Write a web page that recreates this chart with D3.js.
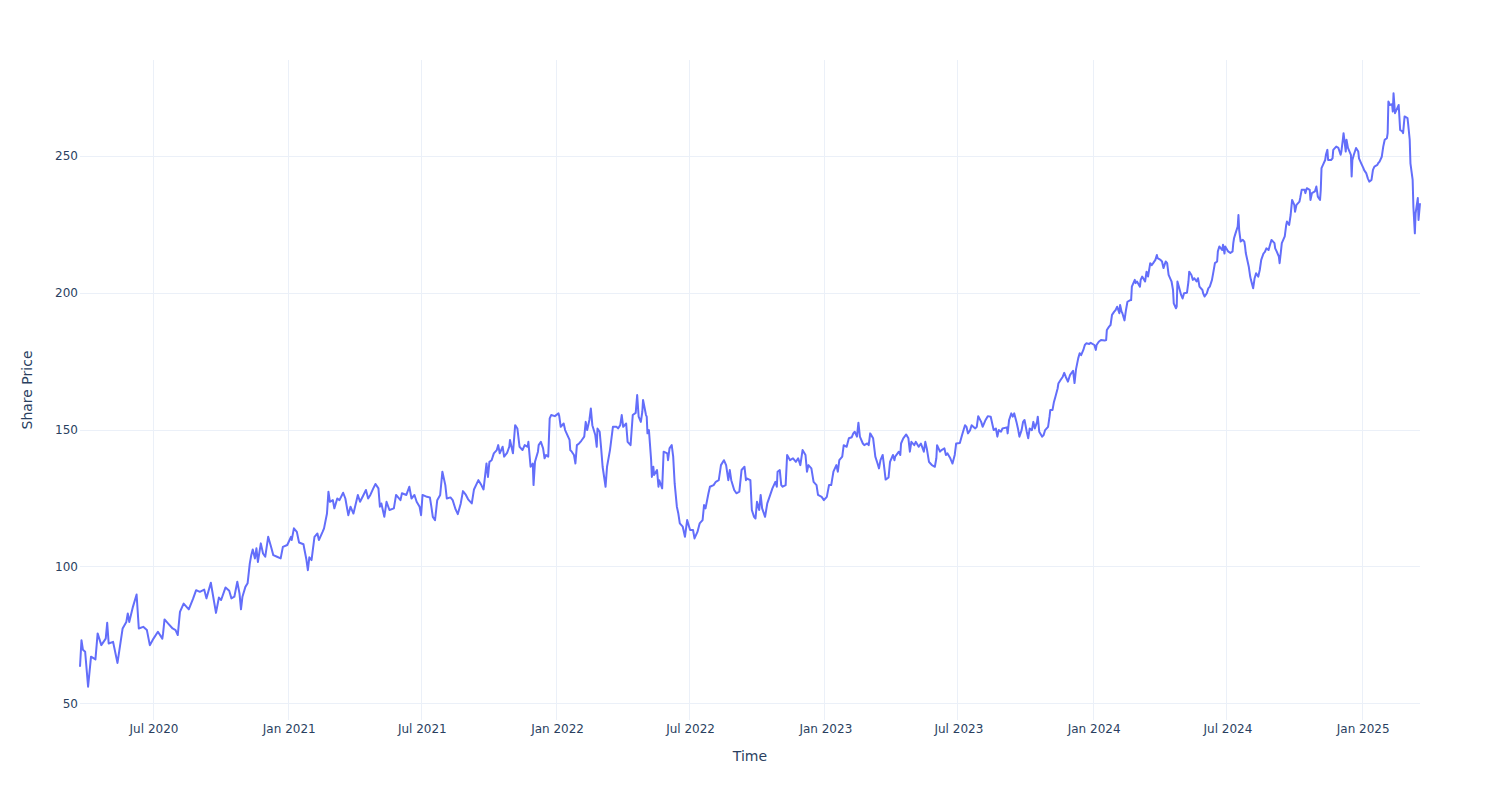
<!DOCTYPE html>
<html><head><meta charset="utf-8">
<script src="https://cdn.jsdelivr.net/npm/d3@7"></script>
<style>body{margin:0;background:#fff}</style>
</head><body><svg id="chart" width="1500" height="800"></svg>
<script>
// ---- data (date, share price) ----
const prices2020 = [
["2020-03-23",63.3],["2020-03-25",73.0],["2020-03-27",69.5],["2020-03-30",68.8],
["2020-04-03",56.0],["2020-04-07",67.0],["2020-04-13",66.0],["2020-04-16",75.5],["2020-04-21",71.2],["2020-04-27",73.6],["2020-04-29",79.4],
["2020-05-01",71.8],["2020-05-07",72.4],["2020-05-13",64.7],["2020-05-20",77.3],["2020-05-25",79.7],["2020-05-27",82.8],["2020-05-29",79.7],
["2020-06-03",85.2],["2020-06-08",89.7],["2020-06-11",77.3],["2020-06-17",77.9],["2020-06-22",76.7],["2020-06-26",71.2],
["2020-07-01",73.6],["2020-07-07",76.1],["2020-07-13",73.6],["2020-07-14",75.5],["2020-07-16",80.6],["2020-07-21",79.1],["2020-07-27",77.3],["2020-07-31",76.7],
["2020-08-03",74.9],["2020-08-06",83.4],["2020-08-11",86.4],["2020-08-18",84.3],["2020-08-24",88.3],["2020-08-28",91.3],
["2020-09-02",90.7],["2020-09-08",91.5],["2020-09-11",88.3],["2020-09-17",94.0],["2020-09-21",87.7],["2020-09-24",83.0],["2020-09-28",88.6],
["2020-10-01",87.7],["2020-10-07",92.3],["2020-10-12",91.1],["2020-10-15",88.3],["2020-10-19",88.9],["2020-10-23",94.4],["2020-10-26",90.1],["2020-10-28",84.3],["2020-10-30",88.9],
["2020-11-03",92.5],["2020-11-06",93.8],["2020-11-09",101.1],["2020-11-11",104.1],["2020-11-13",106.2],["2020-11-16",102.9],["2020-11-18",106.6],["2020-11-20",101.6],["2020-11-24",108.4],["2020-11-27",104.7],["2020-11-30",103.5],
["2020-12-04",110.8],["2020-12-08",107.1],["2020-12-11",104.1],["2020-12-16",103.5],["2020-12-21",102.9],["2020-12-24",107.1],["2020-12-30",107.8]
];
const prices2021 = [
["2021-01-04",110.8],["2021-01-05",109.6],["2021-01-08",113.9],["2021-01-12",112.6],["2021-01-15",108.7],["2021-01-21",108.1],["2021-01-22",106.6],["2021-01-25",102.5],["2021-01-27",98.6],["2021-01-29",103.3],
["2021-02-01",102.3],["2021-02-05",110.8],["2021-02-09",112.0],["2021-02-11",109.6],["2021-02-16",112.6],["2021-02-18",113.9],["2021-02-22",119.3],["2021-02-24",127.3],["2021-02-26",123.6],
["2021-03-02",124.2],["2021-03-04",121.2],["2021-03-08",124.8],["2021-03-11",124.2],["2021-03-16",126.9],["2021-03-19",124.8],["2021-03-23",118.7],["2021-03-26",121.8],["2021-03-30",119.3],
["2021-04-05",126.1],["2021-04-08",123.6],["2021-04-12",125.7],["2021-04-16",127.9],["2021-04-19",124.8],["2021-04-22",126.1],["2021-04-26",128.5],["2021-04-29",130.1],
["2021-05-03",128.5],["2021-05-05",121.8],["2021-05-07",123.0],["2021-05-11",118.1],["2021-05-14",123.6],["2021-05-18",120.6],["2021-05-24",121.2],["2021-05-27",126.1],
["2021-06-02",124.2],["2021-06-04",126.7],["2021-06-10",126.1],["2021-06-14",129.1],["2021-06-17",124.8],["2021-06-21",126.1],["2021-06-24",123.6],["2021-06-28",121.8],["2021-06-30",118.7],
["2021-07-02",126.1],["2021-07-08",125.4],["2021-07-12",125.2],["2021-07-14",121.8],["2021-07-16",118.1],["2021-07-19",116.9],["2021-07-22",124.2],["2021-07-26",126.1],["2021-07-29",134.6],
["2021-08-02",129.7],["2021-08-04",124.8],["2021-08-09",125.2],["2021-08-12",124.2],["2021-08-16",120.8],["2021-08-19",119.1],["2021-08-23",123.0],["2021-08-26",127.5],["2021-08-30",126.1],
["2021-09-02",124.5],["2021-09-07",123.0],["2021-09-10",128.1],["2021-09-16",131.5],["2021-09-20",129.7],["2021-09-23",128.1],["2021-09-27",137.6],["2021-09-29",132.7],
["2021-10-01",138.2],["2021-10-04",138.8],["2021-10-07",141.3],["2021-10-11",142.5],["2021-10-13",144.3],["2021-10-15",141.3],["2021-10-19",143.7],["2021-10-21",140.1],["2021-10-25",141.5],["2021-10-28",143.7],["2021-10-29",146.2],
["2021-11-02",141.3],["2021-11-05",151.6],["2021-11-08",150.4],["2021-11-11",143.7],["2021-11-15",142.5],["2021-11-18",144.3],["2021-11-22",143.7],["2021-11-23",145.5],["2021-11-26",136.4],["2021-11-29",137.6],["2021-11-30",129.7],
["2021-12-02",138.2],["2021-12-06",141.9],["2021-12-07",144.3],["2021-12-10",145.5],["2021-12-13",143.1],["2021-12-15",139.5],["2021-12-17",140.7],["2021-12-20",140.1],["2021-12-22",154.1],["2021-12-24",155.3],["2021-12-29",154.9]
];
const prices2022 = [
["2022-01-03",155.9],["2022-01-04",154.9],["2022-01-06",151.0],["2022-01-10",152.2],["2022-01-12",149.8],["2022-01-14",148.6],["2022-01-18",146.2],["2022-01-19",142.5],["2022-01-21",141.9],["2022-01-24",140.7],["2022-01-26",137.6],["2022-01-28",144.3],["2022-01-31",144.9],
["2022-02-03",145.9],["2022-02-07",147.4],["2022-02-09",152.8],["2022-02-11",149.8],["2022-02-14",153.5],["2022-02-16",157.7],["2022-02-18",151.6],["2022-02-22",148.0],["2022-02-24",143.7],["2022-02-25",150.4],["2022-02-28",149.2],
["2022-03-02",143.1],["2022-03-04",136.4],["2022-03-08",129.1],["2022-03-10",136.4],["2022-03-14",142.5],["2022-03-18",151.0],["2022-03-23",151.0],["2022-03-25",150.4],["2022-03-28",151.6],["2022-03-30",155.3],
["2022-04-01",151.0],["2022-04-05",152.2],["2022-04-07",145.5],["2022-04-11",144.3],["2022-04-14",155.3],["2022-04-18",156.1],["2022-04-20",162.6],["2022-04-22",154.7],["2022-04-25",152.8],["2022-04-27",156.5],["2022-04-28",160.8],
["2022-05-02",155.3],["2022-05-03",154.7],["2022-05-04",148.6],["2022-05-06",149.8],["2022-05-09",138.8],["2022-05-10",132.7],["2022-05-12",136.4],["2022-05-13",133.4],["2022-05-17",135.2],["2022-05-19",129.1],["2022-05-20",131.5],["2022-05-24",128.5],["2022-05-26",141.9],["2022-05-31",141.3],
["2022-06-01",138.8],["2022-06-03",143.1],["2022-06-06",144.3],["2022-06-08",140.1],["2022-06-10",130.3],["2022-06-13",121.8],["2022-06-15",119.3],["2022-06-17",115.7],["2022-06-21",114.5],["2022-06-24",110.8],["2022-06-27",116.9],["2022-06-29",115.1],
["2022-07-01",113.3],["2022-07-05",113.3],["2022-07-07",110.2],["2022-07-11",112.6],["2022-07-14",115.7],["2022-07-18",116.9],["2022-07-20",122.4],["2022-07-22",121.2],["2022-07-26",126.7],["2022-07-28",129.1],
["2022-08-02",129.7],["2022-08-05",130.9],["2022-08-09",131.5],["2022-08-12",137.0],["2022-08-16",138.8],["2022-08-19",137.0],["2022-08-22",131.5],["2022-08-24",135.2],["2022-08-26",131.5],["2022-08-30",127.9],
["2022-09-02",126.7],["2022-09-06",127.3],["2022-09-09",135.2],["2022-09-13",136.4],["2022-09-15",131.5],["2022-09-16",132.1],["2022-09-21",131.5],["2022-09-23",120.6],["2022-09-26",118.1],["2022-09-28",117.5],["2022-09-30",123.6],
["2022-10-03",120.6],["2022-10-05",126.1],["2022-10-07",121.2],["2022-10-11",118.1],["2022-10-14",123.0],["2022-10-18",126.1],["2022-10-21",128.5],["2022-10-25",130.9],["2022-10-27",129.1],["2022-10-28",134.6],["2022-10-31",135.2],
["2022-11-02",129.7],["2022-11-04",129.1],["2022-11-08",129.7],["2022-11-10",140.7],["2022-11-14",138.8],["2022-11-18",139.5],["2022-11-22",138.2],["2022-11-25",139.5],["2022-11-28",137.0],
["2022-12-01",142.5],["2022-12-05",140.7],["2022-12-07",134.6],["2022-12-09",137.0],["2022-12-13",135.8],["2022-12-16",130.9],["2022-12-20",129.7],["2022-12-22",126.1],["2022-12-27",125.4],["2022-12-30",124.2]
];
const prices2023 = [
["2023-01-03",125.4],["2023-01-06",129.7],["2023-01-09",129.7],["2023-01-12",134.6],["2023-01-16",137.0],["2023-01-18",134.6],["2023-01-20",138.8],["2023-01-24",140.1],["2023-01-26",144.3],["2023-01-30",143.7],
["2023-02-02",146.8],["2023-02-06",147.2],["2023-02-08",148.6],["2023-02-10",149.2],["2023-02-13",147.4],["2023-02-15",152.5],["2023-02-17",147.4],["2023-02-21",144.9],["2023-02-23",144.3],["2023-02-27",144.9],
["2023-03-01",144.3],["2023-03-03",148.6],["2023-03-07",146.8],["2023-03-10",140.1],["2023-03-13",137.6],["2023-03-15",135.8],["2023-03-17",138.8],["2023-03-20",140.7],["2023-03-22",136.4],["2023-03-24",131.7],["2023-03-28",132.5],["2023-03-30",138.2],
["2023-04-03",140.7],["2023-04-05",138.8],["2023-04-06",140.1],["2023-04-11",141.9],["2023-04-13",140.7],["2023-04-14",144.9],["2023-04-17",146.8],["2023-04-21",148.2],["2023-04-24",146.8],["2023-04-26",141.9],["2023-04-28",145.5],
["2023-05-02",144.3],["2023-05-04",145.5],["2023-05-08",143.7],["2023-05-11",144.9],["2023-05-15",141.9],["2023-05-17",145.5],["2023-05-19",143.1],["2023-05-22",138.2],["2023-05-24",137.6],["2023-05-26",137.0],["2023-05-30",136.4],
["2023-06-01",139.5],["2023-06-02",144.3],["2023-06-06",141.9],["2023-06-08",142.5],["2023-06-12",143.1],["2023-06-14",140.7],["2023-06-16",141.3],["2023-06-20",139.5],["2023-06-21",138.8],["2023-06-23",137.6],["2023-06-26",140.7],["2023-06-28",144.9],
["2023-07-03",145.1],["2023-07-06",148.0],["2023-07-10",151.6],["2023-07-12",151.0],["2023-07-14",148.6],["2023-07-17",149.8],["2023-07-19",151.6],["2023-07-24",150.4],["2023-07-26",151.0],["2023-07-28",154.9],
["2023-08-01",152.8],["2023-08-03",151.0],["2023-08-07",153.5],["2023-08-10",154.9],["2023-08-14",154.7],["2023-08-16",152.2],["2023-08-18",149.8],["2023-08-21",150.4],["2023-08-23",147.4],["2023-08-25",149.8],["2023-08-28",149.2],["2023-08-30",150.4],
["2023-09-05",150.8],["2023-09-06",148.6],["2023-09-08",153.5],["2023-09-11",155.9],["2023-09-13",154.7],["2023-09-15",155.9],["2023-09-18",152.8],["2023-09-20",150.4],["2023-09-22",147.4],["2023-09-25",149.8],["2023-09-27",152.8],["2023-09-29",153.5],
["2023-10-02",149.2],["2023-10-04",146.8],["2023-10-06",150.4],["2023-10-09",149.8],["2023-10-11",152.8],["2023-10-13",150.4],["2023-10-16",152.8],["2023-10-17",154.7],["2023-10-19",149.2],["2023-10-23",147.4],["2023-10-25",148.0],["2023-10-27",149.8],["2023-10-31",151.0],
["2023-11-02",154.7],["2023-11-03",157.1],["2023-11-06",157.1],["2023-11-08",160.1],["2023-11-10",162.0],["2023-11-13",165.0],["2023-11-14",166.8],["2023-11-17",168.1],["2023-11-20",169.3],["2023-11-22",170.7],["2023-11-24",169.3],["2023-11-27",167.5],["2023-11-30",170.0],
["2023-12-04",171.5],["2023-12-06",167.0],["2023-12-08",172.0],["2023-12-11",176.0],["2023-12-13",177.9],["2023-12-15",177.2],["2023-12-18",179.1],["2023-12-20",180.9],["2023-12-22",181.5],["2023-12-26",181.3],["2023-12-28",181.7]
];
const prices2024 = [
["2024-01-02",180.9],["2024-01-04",179.1],["2024-01-05",180.9],["2024-01-08",182.1],["2024-01-11",182.7],["2024-01-16",182.5],["2024-01-18",182.7],["2024-01-19",186.4],["2024-01-22",187.6],["2024-01-24",188.2],["2024-01-26",191.9],["2024-01-29",193.1],["2024-01-31",193.7],
["2024-02-02",194.9],["2024-02-05",192.5],["2024-02-06",195.5],["2024-02-08",193.1],["2024-02-09",192.6],["2024-02-12",189.9],["2024-02-14",193.7],["2024-02-16",196.7],["2024-02-20",197.3],["2024-02-21",197.3],["2024-02-22",202.2],["2024-02-26",204.7],["2024-02-27",203.5],["2024-02-29",204.1],
["2024-03-04",202.2],["2024-03-05",204.7],["2024-03-07",205.9],["2024-03-11",204.1],["2024-03-13",207.7],["2024-03-15",205.9],["2024-03-18",210.8],["2024-03-20",210.1],["2024-03-22",210.8],["2024-03-25",212.0],["2024-03-27",213.8],["2024-03-28",212.6],
["2024-04-01",212.0],["2024-04-03",211.4],["2024-04-05",209.0],["2024-04-08",211.4],["2024-04-10",210.8],["2024-04-12",206.5],["2024-04-15",204.7],["2024-04-16",204.1],["2024-04-18",201.0],["2024-04-19",196.1],["2024-04-22",194.3],["2024-04-23",194.9],["2024-04-24",204.1],["2024-04-26",202.2],["2024-04-29",199.2],
["2024-05-01",197.9],["2024-05-03",199.8],["2024-05-07",200.0],["2024-05-09",204.1],["2024-05-10",207.7],["2024-05-13",206.5],["2024-05-15",204.7],["2024-05-17",205.3],["2024-05-20",204.1],["2024-05-22",205.3],["2024-05-24",202.2],["2024-05-28",201.0],["2024-05-29",199.8],["2024-05-31",198.6],
["2024-06-03",199.8],["2024-06-05",201.6],["2024-06-07",202.2],["2024-06-10",204.7],["2024-06-12",207.7],["2024-06-14",210.8],["2024-06-17",211.4],["2024-06-18",215.1],["2024-06-20",216.9],["2024-06-24",215.6],["2024-06-25",217.5],["2024-06-27",214.3],["2024-06-28",216.9],
["2024-07-02",215.1],["2024-07-05",214.5],["2024-07-08",215.1],["2024-07-09",218.1],["2024-07-10",219.9],["2024-07-12",221.7],["2024-07-15",224.2],["2024-07-16",228.4],["2024-07-17",222.9],["2024-07-19",218.7],["2024-07-22",219.3],["2024-07-24",218.7],["2024-07-25",216.9],["2024-07-26",214.5],["2024-07-30",209.6],
["2024-08-01",205.9],["2024-08-02",204.7],["2024-08-05",201.6],["2024-08-07",205.3],["2024-08-09",207.1],["2024-08-12",205.9],["2024-08-14",208.3],["2024-08-16",212.0],["2024-08-19",214.3],["2024-08-21",214.9],["2024-08-23",216.2],["2024-08-26",215.6],["2024-08-28",217.5],["2024-08-30",219.3],
["2024-09-03",218.1],["2024-09-04",216.2],["2024-09-06",215.1],["2024-09-09",213.2],["2024-09-10",210.8],["2024-09-12",215.6],["2024-09-13",218.1],["2024-09-17",220.6],["2024-09-19",224.8],["2024-09-20",226.0],["2024-09-23",224.8],["2024-09-25",228.4],["2024-09-27",233.9],["2024-09-30",232.1],
["2024-10-01",229.6],["2024-10-03",232.1],["2024-10-07",233.3],["2024-10-08",234.6],["2024-10-10",237.6],["2024-10-14",237.6],["2024-10-15",236.4],["2024-10-17",238.2],["2024-10-21",237.6],["2024-10-22",233.9],["2024-10-24",236.4],["2024-10-28",237.0],["2024-10-30",238.8],
["2024-11-01",235.1],["2024-11-04",233.9],["2024-11-05",237.6],["2024-11-06",245.5],["2024-11-08",246.7],["2024-11-11",248.5],["2024-11-12",250.4],["2024-11-14",252.2],["2024-11-15",248.5],["2024-11-19",248.5],["2024-11-21",249.1],["2024-11-22",252.2],["2024-11-26",253.4],["2024-11-29",252.9],
["2024-12-02",250.4],["2024-12-03",251.6],["2024-12-05",255.9],["2024-12-06",258.3],["2024-12-09",251.6],["2024-12-10",255.9],["2024-12-12",252.9],["2024-12-16",250.4],["2024-12-17",242.5],["2024-12-18",248.5],["2024-12-20",250.4],["2024-12-23",252.9],["2024-12-26",251.6],["2024-12-27",249.1],["2024-12-30",247.3]
];
const prices2025 = [
["2025-01-02",245.5],["2025-01-03",244.8],["2025-01-06",243.6],["2025-01-08",241.8],["2025-01-10",240.6],["2025-01-13",241.2],["2025-01-15",244.9],["2025-01-17",246.1],["2025-01-21",246.7],["2025-01-22",247.3],["2025-01-24",247.9],["2025-01-27",249.7],["2025-01-29",253.4],["2025-01-31",255.9],
["2025-02-03",256.5],["2025-02-04",258.3],["2025-02-05",269.9],["2025-02-07",268.6],["2025-02-10",268.9],["2025-02-11",266.2],["2025-02-12",272.9],["2025-02-14",265.6],["2025-02-18",268.0],["2025-02-19",268.6],["2025-02-21",259.5],["2025-02-24",258.9],["2025-02-25",258.3],["2025-02-27",264.4],
["2025-03-03",263.8],["2025-03-04",261.3],["2025-03-06",255.9],["2025-03-07",247.3],["2025-03-10",241.2],["2025-03-11",231.4],["2025-03-13",221.7],["2025-03-14",229.0],["2025-03-17",234.6],["2025-03-18",226.6],["2025-03-20",232.7]
];
const yTickValues = [50, 100, 150, 200, 250];
const xTickFormat = "%b %Y";
const xTitle = "Time";
const yTitle = "Share Price";

// ---- drawing ----
const parse = d3.timeParse("%Y-%m-%d");
const data = [].concat(prices2020, prices2021, prices2022, prices2023, prices2024, prices2025)
  .map(([d, v]) => ({ date: parse(d), value: v }));

const W = 1500, H = 800;
const margin = { top: 60, right: 80, bottom: 80, left: 80 };
const FONT = "'DejaVu Sans', Verdana, sans-serif";
const TXT = "#2a3f5f", GRID = "#ebf0f8", LINE = "#636efa";

const svg = d3.select("#chart");
svg.append("rect").attr("width", W).attr("height", H).attr("fill", "#fff");

const x = d3.scaleTime()
  .domain(d3.extent(data, d => d.date))
  .range([margin.left, W - margin.right]);
const [vmin, vmax] = d3.extent(data, d => d.value);
const pad = (vmax - vmin) * 0.056;
const y = d3.scaleLinear()
  .domain([vmin - pad, vmax + pad])
  .range([H - margin.bottom, margin.top]);

const xTicks = x.ticks(d3.timeMonth.every(6));

// grid
svg.append("g").selectAll("line").data(xTicks).join("line")
  .attr("x1", d => Math.round(x(d)) - 0.5).attr("x2", d => Math.round(x(d)) - 0.5)
  .attr("y1", margin.top).attr("y2", H - margin.bottom)
  .attr("stroke", GRID).attr("stroke-width", 1);
svg.append("g").selectAll("line").data(yTickValues).join("line")
  .attr("x1", margin.left).attr("x2", W - margin.right)
  .attr("y1", d => Math.round(y(d)) + 0.5).attr("y2", d => Math.round(y(d)) + 0.5)
  .attr("stroke", GRID).attr("stroke-width", 1);

// x axis labels
const xAxis = d3.axisBottom(x).tickValues(xTicks).tickFormat(d3.timeFormat(xTickFormat)).tickSize(0).tickPadding(4);
const gx = svg.append("g").attr("transform", `translate(0,${H - margin.bottom})`).call(xAxis);
gx.select(".domain").remove();
gx.selectAll("text").attr("font-family", FONT).attr("font-size", 12).attr("fill", TXT);

// y axis labels
const yAxis = d3.axisLeft(y).tickValues(yTickValues).tickSize(0).tickPadding(2);
const gy = svg.append("g").attr("transform", `translate(${margin.left},0)`).call(yAxis);
gy.select(".domain").remove();
gy.selectAll("text").attr("font-family", FONT).attr("font-size", 12).attr("fill", TXT);

// line
const line = d3.line().x(d => x(d.date)).y(d => y(d.value));
svg.append("path").datum(data)
  .attr("d", line)
  .attr("fill", "none")
  .attr("stroke", LINE)
  .attr("stroke-width", 2)
  .attr("stroke-linejoin", "round");

// titles
svg.append("text")
  .attr("x", (margin.left + W - margin.right) / 2).attr("y", 761)
  .attr("text-anchor", "middle").attr("font-family", FONT).attr("font-size", 14).attr("fill", TXT)
  .text(xTitle);
svg.append("text")
  .attr("transform", `translate(32,${(margin.top + H - margin.bottom) / 2}) rotate(-90)`)
  .attr("text-anchor", "middle").attr("font-family", FONT).attr("font-size", 14).attr("fill", TXT)
  .text(yTitle);
</script>
</body></html>
